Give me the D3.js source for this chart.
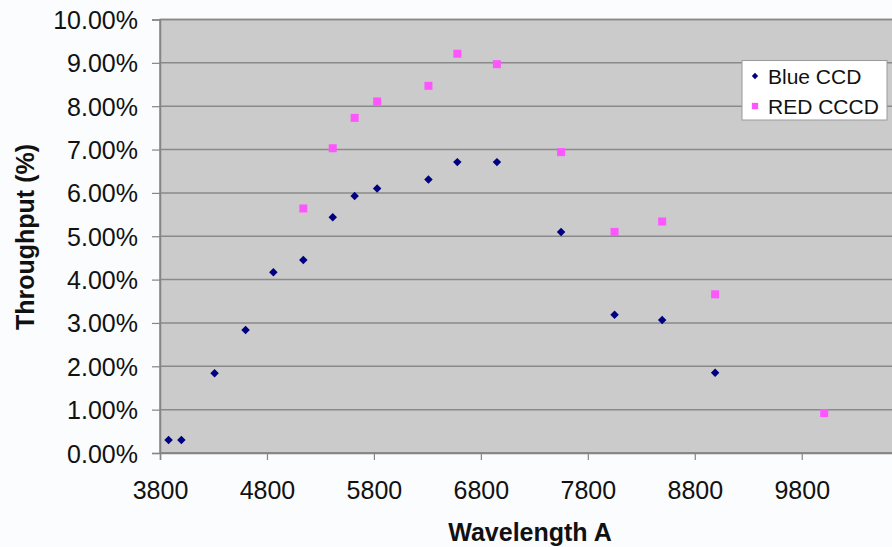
<!DOCTYPE html>
<html>
<head>
<meta charset="utf-8">
<script src="https://cdn.jsdelivr.net/npm/d3@7"></script>
<style>
  html, body { margin: 0; padding: 0; background: #fafcfd; }
  svg { display: block; }
  text { font-family: Arial, "Liberation Sans", sans-serif; }
</style>
</head>
<body>
<div id="chart"></div>
<script>
// wavelength (A) and throughput (%)
var blueWave = [3880, 4000, 4310, 4600, 4860, 5140, 5415, 5620, 5830, 6310, 6580, 6950, 7550, 8050, 8495, 8990];
var blueThr  = [0.30, 0.30, 1.84, 2.84, 4.17, 4.45, 5.44, 5.93, 6.10, 6.31, 6.71, 6.71, 5.10, 3.19, 3.07, 1.85];
var redWave  = [5140, 5415, 5620, 5830, 6310, 6580, 6950, 7550, 8050, 8495, 8990, 10010];
var redThr   = [5.64, 7.03, 7.73, 8.11, 8.47, 9.21, 8.97, 6.94, 5.10, 5.34, 3.66, 0.92];
var xTicks = [3800, 4800, 5800, 6800, 7800, 8800, 9800];
var yTicks = [0, 1, 2, 3, 4, 5, 6, 7, 8, 9, 10];
var seriesNames = ["Blue CCD", "RED CCCD"];

var W = 892, H = 547;
var plotLeft = 160, plotTop = 19.5, plotBottom = 453;
var xMax = 10800;

var svg = d3.select("#chart")
	.append("svg")
	.attr("width", W)
	.attr("height", H);

var x = d3.scaleLinear().domain([3800, xMax]).range([plotLeft, 908.7]);
var y = d3.scaleLinear().domain([0, 10]).range([plotBottom, plotTop]);

// plot area
svg.append("rect")
	.attr("x", plotLeft)
	.attr("y", plotTop)
	.attr("width", x(xMax) - plotLeft)
	.attr("height", plotBottom - plotTop)
	.attr("fill", "#cbcbcb")
	.attr("stroke", "#858585")
	.attr("stroke-width", 1.5);

// gridlines
svg.append("g")
	.selectAll("line")
	.data(yTicks)
	.join("line")
	.attr("x1", plotLeft)
	.attr("x2", x(xMax))
	.attr("y1", function(d) { return y(d); })
	.attr("y2", function(d) { return y(d); })
	.attr("stroke", "#8a8a8a")
	.attr("stroke-width", 1.5);

// y axis
var yAxis = svg.append("g")
	.attr("transform", "translate(" + plotLeft + ",0)")
	.call(d3.axisLeft(y).tickValues(yTicks).tickSize(8).tickPadding(14)
		.tickFormat(function(d) { return d.toFixed(2) + "%"; }));
yAxis.select(".domain").attr("stroke", "#858585").attr("stroke-width", 1.5);
yAxis.selectAll(".tick line").attr("stroke", "#858585").attr("stroke-width", 1.2);
yAxis.selectAll(".tick text")
	.attr("font-size", "25px")
	.attr("fill", "#111")
	.attr("dy", "0.36em");

// x axis
var xAxis = svg.append("g")
	.attr("transform", "translate(0," + plotBottom + ")")
	.call(d3.axisBottom(x).tickValues(xTicks).tickSize(7)
		.tickFormat(d3.format("d")));
xAxis.select(".domain").attr("stroke", "#858585").attr("stroke-width", 1.5);
xAxis.selectAll(".tick line").attr("stroke", "#858585").attr("stroke-width", 1.2);
xAxis.selectAll(".tick text")
	.attr("font-size", "25px")
	.attr("fill", "#111")
	.attr("y", 46)
	.attr("dy", null);

// axis titles
svg.append("text")
	.attr("x", 530)
	.attr("y", 541)
	.attr("text-anchor", "middle")
	.attr("font-size", "25px")
	.attr("font-weight", "bold")
	.attr("fill", "#111")
	.text("Wavelength A");
svg.append("text")
	.attr("transform", "translate(34,237) rotate(-90)")
	.attr("text-anchor", "middle")
	.attr("font-size", "25px")
	.attr("font-weight", "bold")
	.attr("fill", "#111")
	.text("Throughput (%)");

// markers
var diamond = d3.symbol().type(d3.symbolSquare).size(36);
var square = d3.symbol().type(d3.symbolSquare).size(64);

svg.append("g")
	.selectAll("path")
	.data(blueWave.map(function(w, i) { return [w, blueThr[i]]; }))
	.join("path")
	.attr("d", diamond)
	.attr("transform", function(d) { return "translate(" + x(d[0]) + "," + y(d[1]) + ") rotate(45)"; })
	.attr("fill", "#000080");

svg.append("g")
	.selectAll("path")
	.data(redWave.map(function(w, i) { return [w, redThr[i]]; }))
	.join("path")
	.attr("d", square)
	.attr("transform", function(d) { return "translate(" + x(d[0]) + "," + y(d[1]) + ")"; })
	.attr("fill", "#ff55ff");

// legend
var lg = svg.append("g").attr("transform", "translate(742,60.5)");
lg.append("rect")
	.attr("width", 145)
	.attr("height", 59.5)
	.attr("fill", "#ffffff")
	.attr("stroke", "#9a9a9a")
	.attr("stroke-width", 1);
lg.append("path")
	.attr("d", d3.symbol().type(d3.symbolSquare).size(20))
	.attr("transform", "translate(13,15.5) rotate(45)")
	.attr("fill", "#000080");
lg.append("path")
	.attr("d", d3.symbol().type(d3.symbolSquare).size(40))
	.attr("transform", "translate(13,45.5)")
	.attr("fill", "#ff55ff");
lg.selectAll("text")
	.data(seriesNames)
	.join("text")
	.attr("x", 26)
	.attr("y", function(d, i) { return 15.5 + i * 30.5; })
	.attr("dy", "0.36em")
	.attr("font-size", "21px")
	.attr("fill", "#111")
	.text(function(d) { return d; });
</script>
</body>
</html>
